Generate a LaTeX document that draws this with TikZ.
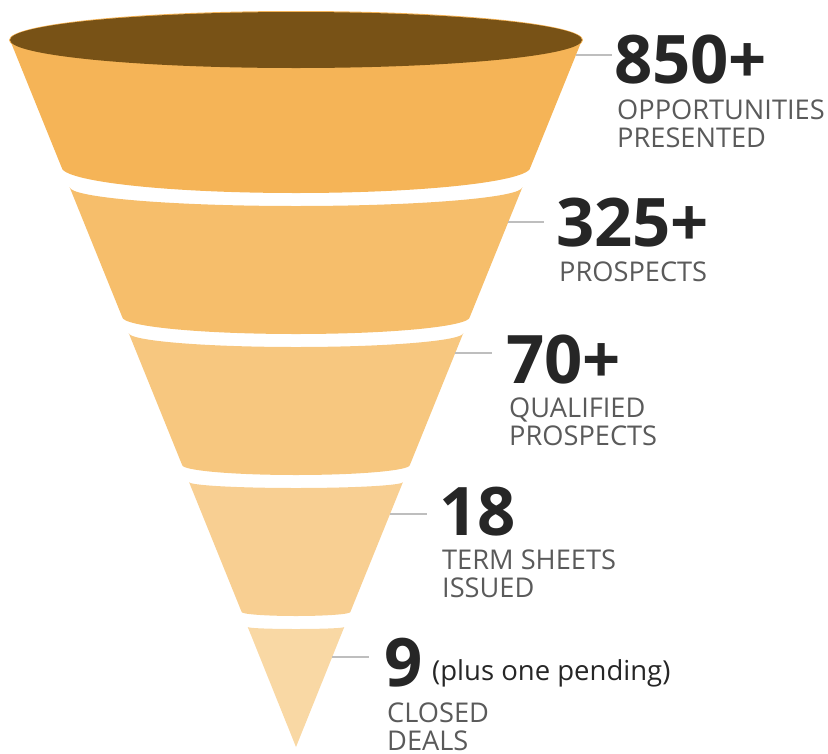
\documentclass[tikz,border=0pt]{standalone}
\usepackage{fontspec}
\newfontfamily\osans{Open Sans}
\definecolor{rimbrown}{RGB}{120,82,22}
\definecolor{segA}{RGB}{245,180,87}
\definecolor{segB}{RGB}{246,190,107}
\definecolor{segC}{RGB}{247,199,127}
\definecolor{segD}{RGB}{248,207,146}
\definecolor{segE}{RGB}{249,216,164}
\definecolor{numcol}{RGB}{38,38,38}
\definecolor{labcol}{RGB}{90,90,90}
\definecolor{leadcol}{RGB}{190,190,190}
\newcommand\fseg[5]{%
  \pgfmathsetmacro\hwa{286-0.405*(#1-40)}%
  \pgfmathsetmacro\hwb{max(286-0.405*(#3-40),0)}%
  \fill[#5] (296-\hwa,#1) .. controls (296-\hwa,#1+0.552*#2) and (296-0.552*\hwa,#1+#2) .. (296,#1+#2)
     .. controls (296+0.552*\hwa,#1+#2) and (296+\hwa,#1+0.552*#2) .. (296+\hwa,#1)
     -- (296+\hwb,#3) .. controls (296+\hwb,#3+0.552*#4) and (296+0.552*\hwb,#3+#4) .. (296,#3+#4)
     .. controls (296-0.552*\hwb,#3+#4) and (296-\hwb,#3+0.552*#4) .. (296-\hwb,#3) -- cycle;}
\begin{document}
\begin{tikzpicture}[x=1pt,y=-1pt,
  num/.style={anchor=base west,inner sep=0pt,text=numcol,font=\osans\bfseries\fontsize{67}{67}\selectfont},
  lab/.style={anchor=base west,inner sep=0pt,text=labcol,font=\osans\fontsize{27.2}{28}\selectfont},
  extra/.style={anchor=base west,inner sep=0pt,text=numcol,font=\osans\fontsize{27.5}{28}\selectfont},
  lead/.style={draw=leadcol,line width=1.5pt}]
\useasboundingbox (0,0) rectangle (828,753);
% funnel segments
\fseg{40}{0}{167}{26}{segA}
\fseg{187}{19}{317}{17}{segB}
\fseg{333}{14}{465}{10}{segC}
\fseg{482}{6}{612}{4}{segD}
\fseg{627}{2}{747}{0}{segE}
% top rim
\fill[segA] (296,40) ellipse[x radius=287,y radius=29];
\fill[rimbrown] (296,40) ellipse[x radius=286,y radius=28];
% leader lines
\coordinate (l1a) at (576,55);  \coordinate (l1b) at (612,55);
\coordinate (l2a) at (508,222); \coordinate (l2b) at (544,222);
\coordinate (l3a) at (455,353); \coordinate (l3b) at (492,353);
\coordinate (l4a) at (390,514); \coordinate (l4b) at (427,514);
\coordinate (l5a) at (332,657); \coordinate (l5b) at (369,657);
\draw[lead] (l1a) -- (l1b);
\draw[lead] (l2a) -- (l2b);
\draw[lead] (l3a) -- (l3b);
\draw[lead] (l4a) -- (l4b);
\draw[lead] (l5a) -- (l5b);
% labels
\node[num] (n1) at (614,83) {850+};
\node[lab] (t1a) at (617,119) {OPPORTUNITIES};
\node[lab] (t1b) at (617,147) {PRESENTED};
\node[num] (n2) at (556,246) {325+};
\node[lab] (t2a) at (559,281) {PROSPECTS};
\node[num] (n3) at (506,383) {70+};
\node[lab] (t3a) at (509,417) {QUALIFIED};
\node[lab] (t3b) at (509,445) {PROSPECTS};
\node[num] (n4) at (439,535) {18};
\node[lab] (t4a) at (442,569) {TERM SHEETS};
\node[lab] (t4b) at (442,597) {ISSUED};
\node[num] (n5) at (384,686) {9};
\node[extra] (p5) at (432,680) {(plus one pending)};
\node[lab] (t5a) at (387,722) {CLOSED};
\node[lab] (t5b) at (387,750) {DEALS};
\end{tikzpicture}
\end{document}
